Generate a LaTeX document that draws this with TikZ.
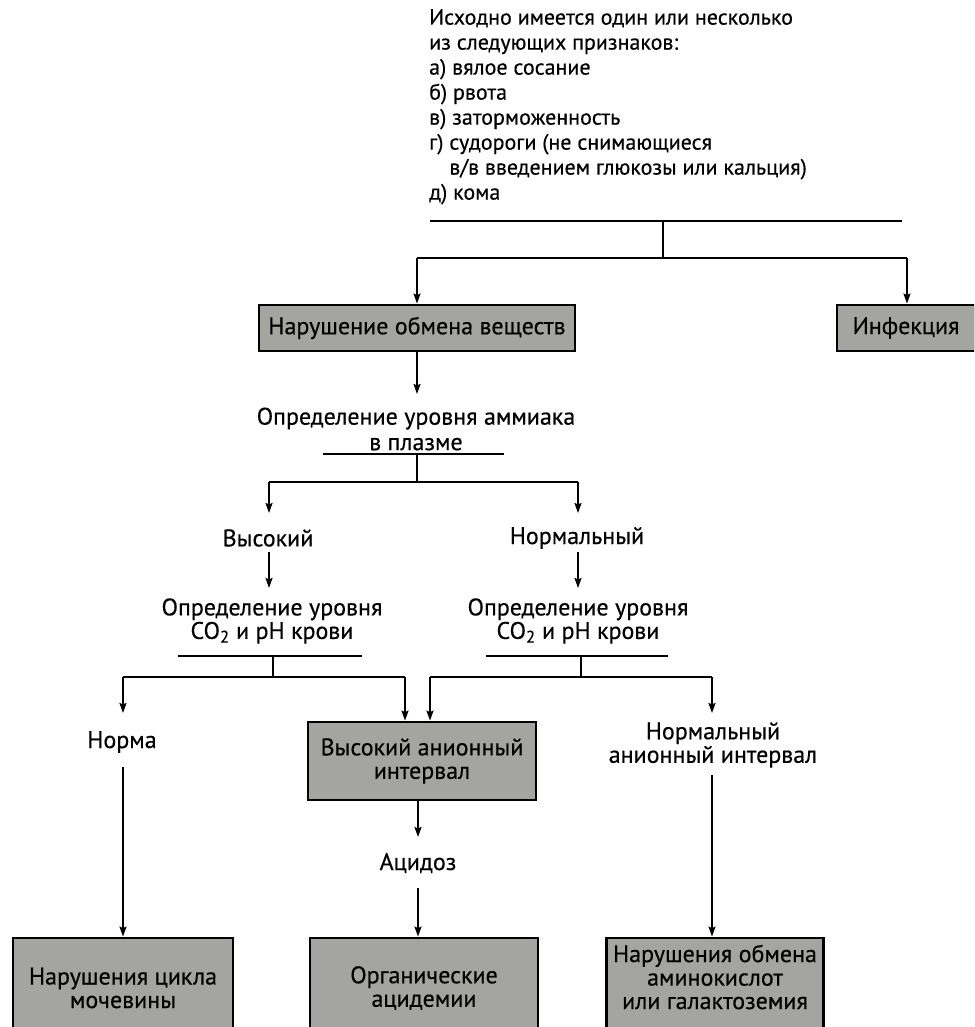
\documentclass[tikz,border=0pt]{standalone}
\usepackage{fontspec}
\setmainfont{PT Sans}[FakeBold=0.4]
\usetikzlibrary{arrows.meta}
\definecolor{boxgray}{RGB}{164,164,160}
\begin{document}
\begin{tikzpicture}[x=1pt,y=-1pt,
  line/.style={line width=1.8pt, draw=black},
  arr/.style={line, -{Stealth[length=10pt,width=7pt,inset=1.5pt]}},
  box/.style={draw=black, line width=2.8pt, fill=boxgray, inner sep=0pt, align=center,
    font=\fontsize{24}{23.5}\selectfont},
  lbl/.style={align=center, inner sep=0pt, font=\fontsize{24}{23.5}\selectfont},
]
\useasboundingbox (0,0) rectangle (974,1027);
\clip (0,0) rectangle (974,1027);
\fill[white] (0,0) rectangle (974,1027);

% intro text
\node[anchor=north west, align=left, inner sep=0pt, font=\fontsize{22}{25}\selectfont] (intro) at (429,9)
{Исходно имеется один или несколько\\
из следующих признаков:\\
а) вялое сосание\\
б) рвота\\
в) заторможенность\\
г) судороги (не снимающиеся\\
\hphantom{г) }в/в введением глюкозы или кальция)\\
д) кома};

\coordinate (l0w) at (430,221);
\coordinate (l0e) at (902,221);
\coordinate (l0m) at (663,221);
\coordinate (b1m) at (663,258);
\coordinate (b1l) at (417,258);
\coordinate (b1r) at (907,258);
\draw[line] (l0w) -- (l0e);
\draw[line] (l0m) -- (b1m);
\draw[line] (b1l) -- (b1r);

\node[box, minimum width=316pt, minimum height=46pt] (meta) at (417,328) {Нарушение обмена веществ};
\node[box, minimum width=138pt, minimum height=46pt] (inf) at (906,328) {Инфекция};
\draw[arr] (b1l) -- (b1l |- meta.north);
\draw[arr] (b1r) -- (b1r |- inf.north);

% ammonia
\node[lbl, font=\fontsize{24}{25.5}\selectfont] (amm) at (416,429) {Определение уровня аммиака\\в плазме};
\coordinate (a1) at (417,394);
\draw[arr] (b1l |- meta.south) -- (a1);
\coordinate (u1w) at (323,454);
\coordinate (u1e) at (504,454);
\coordinate (u1m) at (417,454);
\coordinate (b2m) at (417,482);
\coordinate (b2l) at (269,482);
\coordinate (b2r) at (578,482);
\draw[line] (u1w) -- (u1e);
\draw[line] (u1m) -- (b2m);
\draw[line] (b2l) -- (b2r);

\node[lbl] (vys) at (268,538) {Высокий};
\node[lbl] (nrm) at (577,538) {Нормальный};
\coordinate (a2) at (269,513);
\coordinate (a3) at (578,513);
\draw[arr] (b2l) -- (a2);
\draw[arr] (b2r) -- (a3);

\node[lbl] (co2l) at (272,621) {Определение уровня\\CO\textsubscript{2} и pH крови};
\node[lbl] (co2r) at (578,621) {Определение уровня\\CO\textsubscript{2} и pH крови};
\coordinate (s2) at (269,552);
\coordinate (s3) at (578,552);
\coordinate (a4) at (269,588);
\coordinate (a5) at (578,588);
\draw[arr] (s2) -- (a4);
\draw[arr] (s3) -- (a5);

% left CO2 branch
\coordinate (u2w) at (178,656);
\coordinate (u2e) at (362,656);
\coordinate (u2m) at (273,656);
\coordinate (b3m) at (273,677);
\coordinate (b3l) at (123,677);
\coordinate (b3r) at (405,677);
\draw[line] (u2w) -- (u2e);
\draw[line] (u2m) -- (b3m);
\draw[line] (b3l) -- (b3r);

% right CO2 branch
\coordinate (u3w) at (486,656);
\coordinate (u3e) at (668,656);
\coordinate (u3m) at (581,656);
\coordinate (b4m) at (581,677);
\coordinate (b4l) at (430,677);
\coordinate (b4r) at (712,677);
\draw[line] (u3w) -- (u3e);
\draw[line] (u3m) -- (b4m);
\draw[line] (b4l) -- (b4r);

\node[lbl] (norma) at (122,742) {Норма};
\node[box, minimum width=228pt, minimum height=78pt] (hai) at (422,761) {Высокий анионный\\интервал};
\node[lbl] (nai) at (713,745) {Нормальный\\анионный интервал};
\coordinate (a6) at (123,713);
\coordinate (a7) at (712,713);
\draw[arr] (b3l) -- (a6);
\draw[arr] (b3r) -- (b3r |- hai.north);
\draw[arr] (b4l) -- (b4l |- hai.north);
\draw[arr] (b4r) -- (a7);

\node[lbl] (acid) at (418,863) {Ацидоз};
\coordinate (a8) at (418,837);
\coordinate (s8) at (418,888);
\draw[arr] (a8 |- hai.south) -- (a8);

% bottom boxes
\node[box, minimum width=220pt, minimum height=100pt] (urea) at (123,988) {Нарушения цикла\\мочевины};
\node[box, minimum width=228pt, minimum height=100pt] (org) at (424,988) {Органические\\ацидемии};
\node[box, minimum width=217pt, minimum height=100pt] (amino) at (715,988) {};
\node[lbl] (aminot) at (715,977) {Нарушения обмена\\аминокислот\\или галактоземия};

\coordinate (s6) at (123,767);
\coordinate (s7) at (712,775);
\draw[arr] (s6) -- (s6 |- urea.north);
\draw[arr] (s8) -- (s8 |- org.north);
\draw[arr] (s7) -- (s7 |- amino.north);
\end{tikzpicture}
\end{document}
